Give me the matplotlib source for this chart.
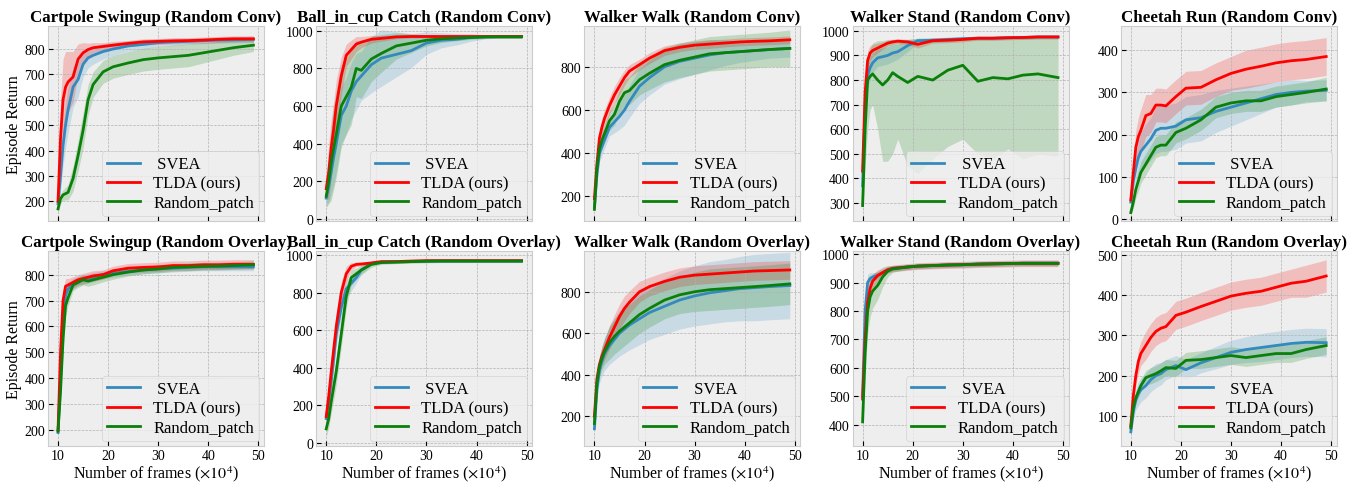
import matplotlib
matplotlib.use("Agg")
import matplotlib.pyplot as plt
from matplotlib.ticker import MultipleLocator
import numpy as np

X = [10, 10.5, 11, 11.5, 12, 13, 14, 15, 16, 17, 19, 21, 24, 27, 30, 33, 36, 39, 42, 45, 49]

# ---- Random Conv row ----
cp_conv_svea = [190, 300, 420, 500, 560, 650, 680, 740, 765, 775, 790, 800, 812, 818, 825, 828, 830, 833, 835, 836, 838]
cp_conv_svea_sd = [15, 60, 80, 90, 90, 80, 70, 50, 40, 35, 30, 25, 20, 18, 15, 15, 12, 12, 12, 12, 12]
cp_conv_tlda = [200, 450, 600, 650, 670, 690, 760, 785, 798, 805, 810, 815, 822, 828, 830, 832, 833, 835, 838, 840, 840]
cp_conv_tlda_sd = [20, 150, 160, 140, 120, 100, 60, 40, 25, 20, 15, 15, 12, 12, 12, 12, 12, 12, 12, 12, 12]
cp_conv_rp = [170, 210, 225, 230, 235, 290, 380, 480, 600, 660, 710, 730, 745, 758, 765, 770, 775, 785, 795, 805, 815]
cp_conv_rp_sd = [15, 20, 20, 25, 30, 50, 60, 70, 60, 50, 45, 45, 45, 45, 45, 45, 45, 40, 35, 30, 25]

bc_conv_svea = [110, 170, 250, 330, 400, 550, 600, 680, 730, 760, 820, 855, 875, 895, 935, 950, 955, 965, 968, 970, 970]
bc_conv_svea_sd = [40, 80, 120, 150, 150, 150, 150, 150, 150, 130, 150, 150, 120, 90, 60, 40, 30, 20, 10, 8, 8]
bc_conv_tlda = [160, 250, 380, 480, 600, 760, 870, 900, 930, 940, 955, 960, 968, 970, 970, 970, 970, 970, 970, 970, 970]
bc_conv_tlda_sd = [40, 150, 150, 150, 140, 100, 60, 50, 40, 30, 20, 15, 10, 8, 8, 8, 8, 8, 8, 8, 8]
bc_conv_rp = [120, 200, 300, 380, 450, 600, 650, 700, 800, 790, 850, 880, 920, 935, 950, 958, 962, 965, 968, 968, 968]
bc_conv_rp_sd = [60, 120, 200, 220, 230, 220, 200, 200, 150, 150, 120, 100, 70, 50, 30, 20, 15, 10, 8, 8, 8]

ww_conv_svea = [150, 300, 400, 430, 460, 520, 545, 570, 600, 640, 710, 750, 800, 825, 840, 855, 865, 870, 875, 880, 885]
ww_conv_svea_sd = [15, 30, 40, 40, 40, 40, 50, 60, 70, 75, 80, 80, 80, 80, 75, 70, 60, 50, 45, 40, 40]
ww_conv_tlda = [190, 350, 470, 520, 560, 620, 670, 710, 750, 780, 810, 840, 875, 890, 900, 905, 910, 915, 918, 920, 925]
ww_conv_tlda_sd = [20, 40, 40, 40, 40, 40, 40, 40, 35, 30, 25, 25, 22, 20, 20, 20, 18, 18, 18, 18, 18]
ww_conv_rp = [140, 330, 420, 460, 490, 550, 580, 640, 680, 690, 740, 770, 810, 830, 845, 860, 865, 870, 875, 880, 885]
ww_conv_rp_sd = [15, 30, 40, 40, 40, 45, 50, 55, 60, 65, 70, 75, 80, 80, 80, 80, 80, 80, 80, 80, 85]

ws_conv_svea = [370, 700, 820, 850, 870, 890, 895, 900, 910, 915, 940, 960, 962, 965, 968, 970, 970, 972, 973, 975, 975]
ws_conv_svea_sd = [20, 60, 50, 45, 40, 35, 35, 35, 35, 30, 25, 10, 10, 10, 8, 8, 8, 8, 8, 8, 8]
ws_conv_tlda = [430, 750, 880, 910, 920, 930, 940, 950, 955, 958, 955, 945, 960, 962, 965, 970, 970, 972, 973, 975, 975]
ws_conv_tlda_sd = [15, 60, 40, 30, 25, 20, 15, 12, 10, 10, 10, 15, 10, 10, 10, 8, 8, 8, 8, 8, 8]
ws_conv_rp = [290, 600, 800, 815, 825, 800, 780, 800, 830, 815, 790, 815, 800, 840, 860, 795, 810, 805, 820, 825, 810]
ws_conv_rp_lo = [250, 450, 600, 680, 700, 600, 470, 470, 500, 560, 450, 420, 480, 530, 560, 500, 480, 520, 480, 500, 490]
ws_conv_rp_hi = [330, 750, 900, 930, 950, 960, 960, 965, 965, 965, 965, 970, 970, 970, 970, 970, 970, 970, 970, 970, 970]

ch_conv_svea = [40, 90, 120, 145, 160, 175, 190, 210, 215, 215, 220, 235, 240, 255, 265, 275, 285, 295, 300, 303, 305]
ch_conv_svea_sd = [8, 20, 30, 40, 45, 50, 50, 55, 55, 55, 55, 55, 55, 50, 45, 40, 35, 30, 30, 25, 25]
ch_conv_tlda = [45, 110, 170, 195, 210, 245, 250, 270, 270, 268, 290, 310, 312, 330, 345, 355, 362, 370, 375, 378, 385]
ch_conv_tlda_sd = [10, 30, 40, 45, 50, 50, 45, 40, 40, 40, 40, 40, 40, 40, 40, 45, 45, 45, 45, 45, 45]
ch_conv_rp = [15, 40, 70, 90, 110, 130, 150, 170, 175, 175, 205, 215, 235, 265, 275, 280, 280, 290, 295, 300, 308]
ch_conv_rp_sd = [5, 15, 20, 25, 25, 25, 25, 25, 25, 25, 25, 25, 25, 25, 25, 25, 25, 25, 25, 25, 28]

# ---- Random Overlay row ----
cp_ov_svea = [190, 400, 620, 720, 745, 765, 775, 780, 785, 790, 800, 805, 812, 818, 822, 825, 828, 830, 830, 830, 830]
cp_ov_svea_sd = [10, 40, 40, 30, 25, 20, 18, 18, 18, 18, 15, 15, 15, 15, 15, 15, 15, 15, 15, 15, 15]
cp_ov_tlda = [200, 500, 700, 755, 760, 770, 780, 785, 790, 795, 800, 815, 825, 828, 830, 835, 835, 838, 838, 840, 840]
cp_ov_tlda_sd = [10, 40, 40, 30, 25, 22, 20, 20, 20, 20, 18, 18, 18, 18, 18, 18, 18, 18, 18, 18, 18]
cp_ov_rp = [195, 350, 550, 680, 710, 760, 770, 780, 775, 780, 790, 800, 810, 818, 822, 828, 830, 832, 833, 835, 838]
cp_ov_rp_sd = [10, 40, 50, 40, 30, 22, 20, 20, 20, 20, 18, 18, 15, 15, 15, 15, 15, 15, 15, 15, 15]

bc_ov_svea = [130, 220, 330, 450, 580, 720, 820, 850, 880, 920, 955, 962, 965, 966, 967, 968, 968, 968, 968, 968, 968]
bc_ov_svea_sd = [30, 50, 60, 60, 60, 60, 50, 40, 30, 20, 10, 8, 8, 8, 8, 8, 8, 8, 8, 8, 8]
bc_ov_tlda = [140, 250, 380, 500, 620, 800, 900, 940, 950, 952, 958, 965, 965, 968, 970, 970, 970, 970, 970, 970, 970]
bc_ov_tlda_sd = [30, 60, 80, 80, 70, 60, 40, 20, 12, 10, 8, 8, 8, 8, 8, 8, 8, 8, 8, 8, 8]
bc_ov_rp = [75, 130, 220, 300, 380, 580, 780, 880, 900, 920, 950, 960, 962, 965, 967, 968, 968, 968, 968, 968, 968]
bc_ov_rp_sd = [40, 50, 60, 70, 70, 70, 60, 40, 30, 25, 15, 10, 8, 8, 8, 8, 8, 8, 8, 8, 8]

ww_ov_svea = [140, 330, 420, 465, 500, 540, 570, 600, 620, 640, 670, 700, 730, 760, 780, 795, 805, 815, 820, 825, 830]
ww_ov_svea_sd = [20, 40, 60, 70, 80, 90, 100, 110, 115, 120, 125, 130, 135, 140, 145, 150, 150, 155, 160, 160, 160]
ww_ov_tlda = [200, 380, 450, 490, 520, 580, 630, 680, 720, 750, 800, 825, 850, 870, 880, 885, 890, 895, 900, 902, 905]
ww_ov_tlda_sd = [20, 30, 40, 45, 50, 55, 60, 60, 60, 55, 50, 45, 45, 45, 45, 45, 45, 45, 45, 45, 45]
ww_ov_rp = [165, 360, 440, 480, 510, 555, 585, 610, 630, 650, 690, 720, 760, 785, 800, 810, 815, 820, 825, 830, 838]
ww_ov_rp_sd = [20, 40, 50, 55, 60, 80, 85, 90, 90, 90, 90, 90, 90, 90, 95, 100, 100, 100, 100, 100, 100]

ws_ov_svea = [500, 800, 900, 915, 920, 925, 935, 945, 950, 952, 955, 958, 960, 962, 963, 965, 966, 967, 968, 968, 968]
ws_ov_svea_sd = [20, 40, 30, 20, 15, 12, 10, 10, 10, 10, 10, 10, 10, 10, 10, 10, 10, 10, 10, 10, 10]
ws_ov_tlda = [490, 700, 830, 880, 905, 925, 935, 945, 950, 952, 955, 958, 960, 962, 963, 965, 966, 967, 968, 968, 968]
ws_ov_tlda_sd = [20, 50, 40, 30, 25, 20, 15, 12, 12, 12, 12, 12, 12, 12, 12, 12, 12, 12, 12, 12, 12]
ws_ov_rp = [410, 650, 800, 850, 870, 890, 920, 940, 948, 950, 955, 958, 960, 962, 963, 965, 966, 967, 968, 968, 968]
ws_ov_rp_sd = [40, 80, 80, 70, 60, 50, 35, 20, 12, 10, 8, 8, 8, 8, 8, 8, 8, 8, 8, 8, 8]

ch_ov_svea = [60, 110, 140, 155, 165, 175, 190, 200, 205, 215, 225, 215, 232, 245, 258, 265, 270, 275, 280, 283, 282]
ch_ov_svea_sd = [10, 20, 25, 30, 30, 30, 30, 30, 28, 25, 25, 25, 25, 28, 30, 32, 35, 35, 35, 35, 35]
ch_ov_tlda = [75, 150, 200, 235, 255, 275, 295, 310, 318, 322, 350, 358, 372, 385, 398, 405, 410, 420, 430, 435, 448]
ch_ov_tlda_sd = [10, 20, 25, 30, 30, 35, 35, 35, 35, 35, 35, 35, 35, 35, 35, 35, 35, 35, 35, 40, 40]
ch_ov_rp = [70, 120, 145, 160, 175, 195, 200, 205, 212, 220, 218, 238, 240, 245, 250, 245, 250, 255, 255, 265, 275]
ch_ov_rp_sd = [8, 15, 15, 15, 15, 18, 20, 20, 20, 20, 20, 20, 22, 22, 22, 22, 22, 22, 22, 22, 22]

titles = ["Cartpole Swingup (Random Conv)", "Ball_in_cup Catch (Random Conv)", "Walker Walk (Random Conv)",
          "Walker Stand (Random Conv)", "Cheetah Run (Random Conv)",
          "Cartpole Swingup (Random Overlay)", "Ball_in_cup Catch (Random Overlay)", "Walker Walk (Random Overlay)",
          "Walker Stand (Random Overlay)", "Cheetah Run (Random Overlay)"]
labels = [" SVEA", "TLDA (ours)", "Random_patch"]
colors = ["#348ABD", "#ff0000", "#0a800a"]

panels = [
    [(cp_conv_svea, cp_conv_svea_sd), (cp_conv_tlda, cp_conv_tlda_sd), (cp_conv_rp, cp_conv_rp_sd)],
    [(bc_conv_svea, bc_conv_svea_sd), (bc_conv_tlda, bc_conv_tlda_sd), (bc_conv_rp, bc_conv_rp_sd)],
    [(ww_conv_svea, ww_conv_svea_sd), (ww_conv_tlda, ww_conv_tlda_sd), (ww_conv_rp, ww_conv_rp_sd)],
    [(ws_conv_svea, ws_conv_svea_sd), (ws_conv_tlda, ws_conv_tlda_sd), (ws_conv_rp, None)],
    [(ch_conv_svea, ch_conv_svea_sd), (ch_conv_tlda, ch_conv_tlda_sd), (ch_conv_rp, ch_conv_rp_sd)],
    [(cp_ov_svea, cp_ov_svea_sd), (cp_ov_tlda, cp_ov_tlda_sd), (cp_ov_rp, cp_ov_rp_sd)],
    [(bc_ov_svea, bc_ov_svea_sd), (bc_ov_tlda, bc_ov_tlda_sd), (bc_ov_rp, bc_ov_rp_sd)],
    [(ww_ov_svea, ww_ov_svea_sd), (ww_ov_tlda, ww_ov_tlda_sd), (ww_ov_rp, ww_ov_rp_sd)],
    [(ws_ov_svea, ws_ov_svea_sd), (ws_ov_tlda, ws_ov_tlda_sd), (ws_ov_rp, ws_ov_rp_sd)],
    [(ch_ov_svea, ch_ov_svea_sd), (ch_ov_tlda, ch_ov_tlda_sd), (ch_ov_rp, ch_ov_rp_sd)],
]
ylims = [(122, 890), (-12, 1025), (86, 988), (227, 1019), (-5, 457),
         (138, 891), (-16, 1021), (57, 996), (325, 1011), (25, 510)]
ysteps = [100, 200, 200, 100, 100, 100, 200, 200, 100, 100]

plt.style.use("bmh")
plt.rcParams["font.family"] = ["Liberation Serif", "DejaVu Serif"]
plt.rcParams["mathtext.fontset"] = "stix"
plt.rcParams["axes.edgecolor"] = "#cccccc"

fig, axes = plt.subplots(2, 5, figsize=(13.64, 4.85), dpi=100)
fig.subplots_adjust(left=0.0352, right=0.980, top=0.944, bottom=0.0784, wspace=0.242, hspace=0.154)

x = np.array(X)
for i, ax in enumerate(axes.flat):
    for j, (mean, sd) in enumerate(panels[i]):
        m = np.array(mean)
        if sd is None:
            lo, hi = np.array(ws_conv_rp_lo), np.array(ws_conv_rp_hi)
        else:
            lo, hi = m - np.array(sd), m + np.array(sd)
        ax.fill_between(x, lo, hi, color=colors[j], alpha=0.2, linewidth=0)
        ax.plot(x, m, color=colors[j], lw=2, label=labels[j])
    ax.set_title(titles[i], fontsize=12.2, fontweight="bold", pad=4)
    ax.set_xlim(8, 51.1)
    ax.set_ylim(*ylims[i])
    ax.set_xticks([10, 20, 30, 40, 50])
    ax.yaxis.set_major_locator(MultipleLocator(ysteps[i]))
    ax.tick_params(labelsize=10, pad=2)
    ax.legend(loc="lower right", fontsize=12, borderaxespad=0.3, handlelength=2.0,
              labelspacing=0.2, borderpad=0.3)
    if i < 5:
        ax.set_xticklabels([])
    else:
        ax.set_xlabel(r"Number of frames ($\times10^4$)", fontsize=11.5, labelpad=1)
    if i % 5 == 0:
        ax.set_ylabel("Episode Return", fontsize=11.5, labelpad=2)

fig.savefig("out.png", dpi=100)
